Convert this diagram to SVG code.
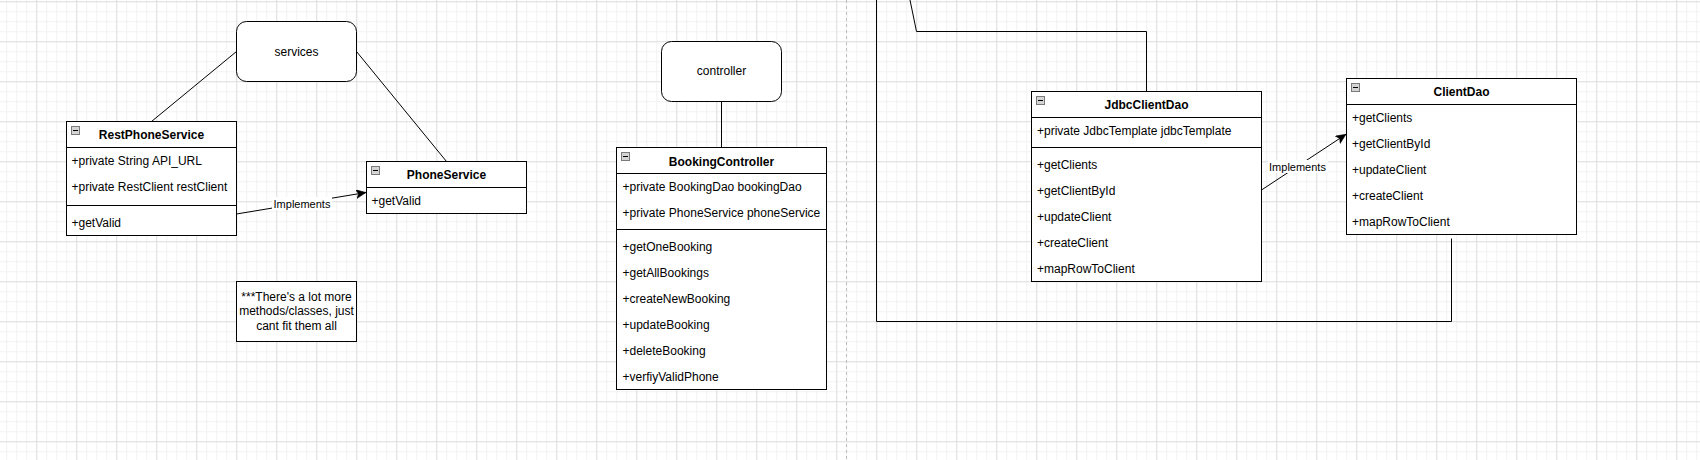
<svg xmlns="http://www.w3.org/2000/svg" width="1700" height="460" viewBox="0 0 1700 460">
<defs>
<pattern id="gMinor" x="6.2" y="1.2" width="10" height="10" patternUnits="userSpaceOnUse">
<path d="M0.5 0V10M0 0.5H10" stroke="#f2f2f2" stroke-width="1" fill="none"/>
</pattern>
<pattern id="gMajor" x="36.2" y="1.2" width="40" height="40" patternUnits="userSpaceOnUse">
<path d="M0.5 0V40M0 0.5H40" stroke="#e0e0e0" stroke-width="1" fill="none"/>
</pattern>
<marker id="arrow" markerUnits="userSpaceOnUse" markerWidth="12" markerHeight="10" refX="10" refY="4.5" orient="auto" viewBox="0 0 12 10">
<path d="M0 0 L10 4.5 L0 9 L2.5 4.5 Z" fill="#000" stroke="#000" stroke-width="0.5"/>
</marker>
<symbol id="minus" viewBox="0 0 9 9" width="9" height="9" overflow="visible">
<rect x="0.5" y="0.5" width="8" height="8" fill="#d4d4d4" stroke="#7a7a7a" stroke-width="1"/>
<path d="M2 4.5H7" stroke="#000" stroke-width="1"/>
</symbol>
</defs>
<style>
.box{fill:#fff;stroke:#000;stroke-width:1}
.div{stroke:#000;stroke-width:1;fill:none}
.t{font-family:"Liberation Sans",Arial,sans-serif;font-size:12px;fill:#000}
.title{font-family:"Liberation Sans",Arial,sans-serif;font-size:12px;font-weight:bold;fill:#000;text-anchor:middle}
.c{text-anchor:middle}
.lbl{font-family:"Liberation Sans",Arial,sans-serif;font-size:11px;fill:#000;text-anchor:middle}
.edge{stroke:#000;stroke-width:1;fill:none}
</style>
<rect width="1700" height="460" fill="#fff"/>
<rect width="1700" height="460" fill="url(#gMinor)"/>
<rect width="1700" height="460" fill="url(#gMajor)"/>
<path d="M846.5 0V460" stroke="#bdbdbd" stroke-width="1" stroke-dasharray="3 3"/>

<g id="connectors">
<path class="edge" d="M236.5 51.5L151.5 121.5"/>
<path class="edge" d="M356.5 51.5L446.5 161.5"/>
<path class="edge" d="M721.5 101.5V147.5"/>
<path class="edge" d="M236.5 214L366 192.5" marker-end="url(#arrow)"/>
<rect x="272" y="197" width="60" height="13" fill="#fff"/>
<text class="lbl" x="302" y="207.5">Implements</text>
<path class="edge" d="M1261.5 190L1346 134.3" marker-end="url(#arrow)"/>
<rect x="1268" y="160" width="60" height="13" fill="#fff"/>
<text class="lbl" x="1297.5" y="170.5">Implements</text>
<path class="edge" d="M910 0L916.5 31.5H1146.5V91.5"/>
<path class="edge" d="M876.5 0V321.5H1451.5V238.5"/>
</g>

<g id="services">
<rect class="box" x="236.5" y="21.5" width="120" height="60" rx="10" ry="10"/>
<text class="t c" x="296.5" y="55.5">services</text>
</g>

<g id="controller">
<rect class="box" x="661.5" y="41.5" width="120" height="60" rx="10" ry="10"/>
<text class="t c" x="721.5" y="75">controller</text>
</g>

<g id="RestPhoneService">
<rect class="box" x="66.5" y="121.5" width="170" height="114"/>
<path class="div" d="M66.5 147.5H236.5M66.5 205.5H236.5"/>
<use href="#minus" x="71" y="126"/>
<text class="title" x="151.5" y="139">RestPhoneService</text>
<text class="t" x="71.5" y="165">+private String API_URL</text>
<text class="t" x="71.5" y="191">+private RestClient restClient</text>
<text class="t" x="71.5" y="227">+getValid</text>
</g>

<g id="PhoneService">
<rect class="box" x="366.5" y="161.5" width="160" height="52"/>
<path class="div" d="M366.5 187.5H526.5"/>
<use href="#minus" x="371" y="166"/>
<text class="title" x="446.5" y="179">PhoneService</text>
<text class="t" x="371.5" y="205">+getValid</text>
</g>

<g id="note">
<rect class="box" x="236.5" y="281.5" width="120" height="60"/>
<text class="t c" x="296.5" y="301">***There's a lot more</text>
<text class="t c" x="296.5" y="315">methods/classes, just</text>
<text class="t c" x="296.5" y="330">cant fit them all</text>
</g>

<g id="BookingController">
<rect class="box" x="616.5" y="147.5" width="210" height="242"/>
<path class="div" d="M616.5 173.5H826.5M616.5 229.5H826.5"/>
<use href="#minus" x="621" y="152"/>
<text class="title" x="721.5" y="165.5">BookingController</text>
<text class="t" x="622.5" y="191.3">+private BookingDao bookingDao</text>
<text class="t" x="622.5" y="217">+private PhoneService phoneService</text>
<text class="t" x="622.5" y="251">+getOneBooking</text>
<text class="t" x="622.5" y="277">+getAllBookings</text>
<text class="t" x="622.5" y="303">+createNewBooking</text>
<text class="t" x="622.5" y="329">+updateBooking</text>
<text class="t" x="622.5" y="355">+deleteBooking</text>
<text class="t" x="622.5" y="381">+verfiyValidPhone</text>
</g>

<g id="JdbcClientDao">
<rect class="box" x="1031.5" y="91.5" width="230" height="190"/>
<path class="div" d="M1031.5 117.5H1261.5M1031.5 147.5H1261.5"/>
<use href="#minus" x="1036" y="96"/>
<text class="title" x="1146.5" y="109">JdbcClientDao</text>
<text class="t" x="1037" y="135">+private JdbcTemplate jdbcTemplate</text>
<text class="t" x="1037" y="169">+getClients</text>
<text class="t" x="1037" y="195">+getClientById</text>
<text class="t" x="1037" y="221">+updateClient</text>
<text class="t" x="1037" y="247">+createClient</text>
<text class="t" x="1037" y="273">+mapRowToClient</text>
</g>

<g id="ClientDao">
<rect class="box" x="1346.5" y="78.5" width="230" height="156"/>
<path class="div" d="M1346.5 104.5H1576.5"/>
<use href="#minus" x="1351" y="83"/>
<text class="title" x="1461.5" y="96">ClientDao</text>
<text class="t" x="1352" y="122">+getClients</text>
<text class="t" x="1352" y="148">+getClientById</text>
<text class="t" x="1352" y="174">+updateClient</text>
<text class="t" x="1352" y="200">+createClient</text>
<text class="t" x="1352" y="226">+mapRowToClient</text>
</g>
</svg>
